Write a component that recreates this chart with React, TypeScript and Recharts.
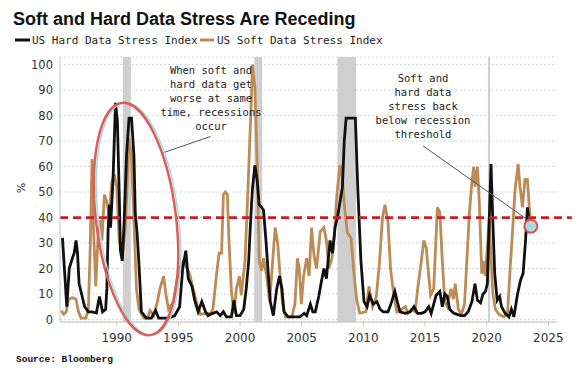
import React from "react";
import {
  LineChart,
  Line,
  XAxis,
  YAxis,
  CartesianGrid,
  ReferenceArea,
  ReferenceLine,
  ReferenceDot,
} from "recharts";

const hardYears = [1985.6,1985.95,1986.15,1986.4,1986.55,1986.7,1986.82,1986.95,1987.15,1987.4,1987.7,1988.0,1988.35,1988.6,1988.85,1989.1,1989.2,1989.3,1989.4,1989.5,1989.7,1989.9,1990.05,1990.2,1990.3,1990.45,1990.6,1990.8,1991.0,1991.2,1991.4,1991.5,1991.65,1991.8,1992.0,1992.4,1992.8,1993.15,1993.4,1994.2,1994.7,1995.1,1995.35,1995.6,1995.8,1996.1,1996.3,1996.6,1996.9,1997.2,1997.4,1997.8,1998.1,1998.4,1998.65,1998.9,1999.3,1999.5,1999.7,2000.0,2000.3,2000.5,2000.7,2000.85,2001.0,2001.2,2001.4,2001.55,2001.75,2001.9,2002.1,2002.3,2002.45,2002.7,2002.97,2003.2,2003.4,2003.56,2003.9,2004.45,2004.85,2005.2,2005.4,2005.7,2005.9,2006.1,2006.4,2006.6,2006.8,2007.0,2007.3,2007.5,2007.7,2007.9,2008.1,2008.3,2008.45,2008.6,2009.35,2009.55,2009.8,2010.05,2010.3,2010.5,2010.8,2011.1,2011.35,2011.6,2012.0,2012.3,2012.55,2012.75,2012.97,2013.4,2013.8,2014.1,2014.4,2014.7,2015.0,2015.3,2015.5,2015.9,2016.2,2016.4,2016.6,2016.8,2017.0,2017.3,2017.6,2017.9,2018.2,2018.5,2018.8,2019.05,2019.25,2019.5,2019.7,2019.9,2020.05,2020.2,2020.35,2020.5,2020.65,2020.85,2021.05,2021.2,2021.5,2021.8,2022.0,2022.2,2022.5,2022.75,2022.95,2023.15,2023.3,2023.45,2023.6];
const hardValues = [32,5,20,24,26,31,26,14,10,5,3,3,2.5,9,3,4,12,35,45,36,55,85,78,50,27,23,38,65,79,79,64,42,34,22,3,0.5,0.5,3.5,0.5,0.5,1.5,5,20,27,16,13,8,3,7,3,1.5,2.4,3,1.5,3,1,1,7.5,1.5,1.5,4,12,23,38,51,60.5,54,45,44,43,31,17,7,1.5,12,17,12,3,1,1,1,2.4,1.5,6,3,3,9.5,15,20,16,31,26,36,40,46,52,70,79,79,51,23,7,5,9.5,6,7,4,3,3,7,11,7,3,2.4,3,5,2.4,2.4,3,5,2.4,9.5,11,5,10,9,4,2.5,2,1.5,1.5,3,7,14,7.5,6.5,10,11,14,38,61,38,18,7.5,9,5,2.4,1,4,1,10,15.5,18,31,44,38,36];

const softYears = [1985.5,1985.7,1985.9,1986.1,1986.4,1986.7,1986.9,1987.1,1987.5,1987.7,1987.85,1988.0,1988.1,1988.3,1988.5,1988.7,1988.8,1989.0,1989.2,1989.4,1989.6,1989.8,1990.0,1990.2,1990.45,1990.7,1991.0,1991.2,1991.4,1991.6,1991.8,1992.2,1992.5,1992.7,1993.0,1993.3,1993.5,1993.8,1994.0,1994.2,1994.6,1994.9,1995.1,1995.4,1995.6,1995.9,1996.2,1996.5,1996.8,1997.2,1997.6,1997.8,1998.1,1998.3,1998.5,1998.65,1998.8,1998.97,1999.1,1999.3,1999.5,1999.7,1999.95,2000.1,2000.4,2000.6,2000.75,2000.9,2001.0,2001.2,2001.4,2001.55,2001.75,2001.9,2002.15,2002.4,2002.6,2002.85,2003.05,2003.2,2003.45,2003.7,2004.2,2004.45,2004.65,2004.8,2004.97,2005.15,2005.4,2005.6,2005.8,2006.0,2006.2,2006.5,2006.8,2007.0,2007.2,2007.45,2007.65,2007.85,2008.1,2008.3,2008.45,2008.7,2009.0,2009.2,2009.45,2009.7,2010.2,2010.45,2010.75,2011.05,2011.3,2011.55,2011.75,2012.0,2012.2,2012.4,2012.7,2013.1,2013.4,2013.6,2013.9,2014.2,2014.4,2014.7,2014.9,2015.1,2015.3,2015.45,2015.7,2015.9,2016.0,2016.2,2016.4,2016.6,2016.8,2017.1,2017.3,2017.45,2017.7,2017.95,2018.2,2018.4,2018.6,2018.8,2018.95,2019.05,2019.25,2019.4,2019.6,2019.72,2019.88,2020.05,2020.2,2020.35,2020.5,2020.7,2021.0,2021.4,2021.7,2021.9,2022.05,2022.3,2022.55,2022.7,2022.9,2023.1,2023.3,2023.45,2023.6];
const softValues = [3.5,2,3,8,8.5,8,3,0.5,0.5,4,28,63,38,13,34,39,31,49,46,41,54,57,52,31,25,36,71,64,38,12,4,0.5,0.5,3.5,1.5,7,12,17,9.5,4,7,16,20,23,21,18,12,6,2,2.4,2.4,4,18,26,26,49,50,49,31,11,2.4,12,17,9.5,23,46,65,84,100,91,60,23,19,24,17,7,20,36,30,20,6,1,1,6,24,20,6,17,24,17,36,25,20,34.5,36,31,20,24,33,49,60.6,56,45,34,32,20,8,2.5,3,13,5,9,22,40,45,38,20,12,3,4,5,2.4,4,3,12,23,31,28,17,9.5,12,33,44,42,23,7,5,12,8,14,4,2,6,24,42,54,60,52,60,46,18,23,17,28,40,24,10,4,2,1,3,20,31,51,61,52,44,55,55,44,37];

const xTicks = [1990, 1995, 2000, 2005, 2010, 2015, 2020, 2025];
const yTicks = [0, 10, 20, 30, 40, 50, 60, 70, 80, 90, 100];
const recessionStart = [1990.5, 2001.15, 2007.9, 2020.1];
const recessionEnd = [1991.15, 2001.8, 2009.4, 2020.28];
const threshold = 40;

const title = "Soft and Hard Data Stress Are Receding";
const hardName = "US Hard Data Stress Index";
const softName = "US Soft Data Stress Index";
const note1 = ["When soft and", "hard data get", "worse at same", "time, recessions", "occur"];
const note2 = ["Soft and", "hard data", "stress back", "below recession", "threshold"];
const source = "Source: Bloomberg";

const hardData = hardYears.map((t, i) => ({ t, v: hardValues[i] }));
const softData = softYears.map((t, i) => ({ t, v: softValues[i] }));

const BLACK = "#111111";
const TAN = "#bb8c55";
const RED = "#c41f28";
const mono = "'DejaVu Sans Mono', monospace";
const sans = "'DejaVu Sans', sans-serif";

export default function App() {
  return (
    <div style={{ position: "absolute", left: 0, top: 0, width: 587, height: 374, background: "#fff" }}>
      <LineChart
        width={587}
        height={374}
        margin={{ top: 57, right: 30, left: 0, bottom: 22 }}
        style={{ position: "absolute", left: 0, top: 0 }}
      >
        <CartesianGrid horizontal vertical={false} stroke="#d8d8d8" strokeDasharray="2 2" />
        {recessionStart.map((s, i) => (
          <ReferenceArea key={i} x1={s} x2={recessionEnd[i]} fill="#cfcfcf" fillOpacity={1} stroke="none" ifOverflow="hidden" />
        ))}
        <XAxis
          dataKey="t"
          type="number"
          domain={[1985.4, 2025.7]}
          ticks={xTicks}
          allowDataOverflow
          height={30}
          stroke="#c4c4c4"
          tickSize={4}
          tickMargin={7}
          tick={{ fill: "#333", fontSize: 12, fontFamily: sans }}
        />
        <YAxis
          type="number"
          domain={[-1, 103]}
          ticks={yTicks}
          allowDataOverflow
          width={60}
          stroke="#c4c4c4"
          tickLine={false}
          tickSize={0}
          tickMargin={7}
          tick={{ fill: "#333", fontSize: 11.5, fontFamily: sans }}
        />
        <Line data={softData} dataKey="v" type="linear" stroke={TAN} strokeWidth={2.8} dot={false} isAnimationActive={false} />
        <Line data={hardData} dataKey="v" type="linear" stroke={BLACK} strokeWidth={2.8} dot={false} isAnimationActive={false} />
        <ReferenceLine
          segment={[{ x: 1985.4, y: threshold }, { x: 2026.9, y: threshold }]}
          stroke={RED}
          strokeWidth={2.8}
          strokeDasharray="8 5"
          ifOverflow="visible"
        />
        <ReferenceLine segment={[{ x: 1993.75, y: 65.4 }, { x: 1997.6, y: 71.8 }]} stroke="#555" strokeWidth={1} ifOverflow="visible" />
        <ReferenceLine segment={[{ x: 2014.84, y: 68.1 }, { x: 2023.35, y: 39 }]} stroke="#555" strokeWidth={1} ifOverflow="visible" />
        <ReferenceDot x={2023.58} y={36.6} r={6.5} fill="#a9dcdc" stroke="#e0504f" strokeWidth={2} ifOverflow="visible" />
      </LineChart>
      <svg width={587} height={374} style={{ position: "absolute", left: 0, top: 0, pointerEvents: "none" }}>
        <text x={13} y={25} fontFamily="'Liberation Sans', Arial, sans-serif" fontWeight="bold" fontSize={18} fill="#111">
          {title}
        </text>
        <line x1={15} y1={40} x2={30} y2={40} stroke={BLACK} strokeWidth={3} />
        <text x={32} y={44} fontFamily={mono} fontSize={11} fill="#222">{hardName}</text>
        <line x1={200} y1={40} x2={214} y2={40} stroke={TAN} strokeWidth={3} />
        <text x={217} y={44} fontFamily={mono} fontSize={11} fill="#222">{softName}</text>
        <text x={17} y={188} fontFamily={sans} fontSize={11} fill="#333" textAnchor="middle" transform="rotate(90 17 188)">%</text>
        <ellipse cx={137} cy={219} rx={40} ry={117} fill="none" stroke="#9fe0e0" strokeWidth={1.5} transform="rotate(-7 138 219) translate(1.5 0)" />
        <ellipse cx={136} cy={219} rx={40} ry={117} fill="none" stroke="#e05a5a" strokeWidth={2.5} transform="rotate(-7 136 219)" />
        {note1.map((s, i) => (
          <text key={i} x={211} y={74 + i * 14} fontFamily={mono} fontSize={10.5} fill="#222" textAnchor="middle">{s}</text>
        ))}
        {note2.map((s, i) => (
          <text key={i} x={423} y={82 + i * 14} fontFamily={mono} fontSize={10.5} fill="#222" textAnchor="middle">{s}</text>
        ))}
        <text x={16} y={362} fontFamily="'Liberation Mono', monospace" fontWeight="bold" fontSize={9.5} fill="#111">{source}</text>
      </svg>
    </div>
  );
}
